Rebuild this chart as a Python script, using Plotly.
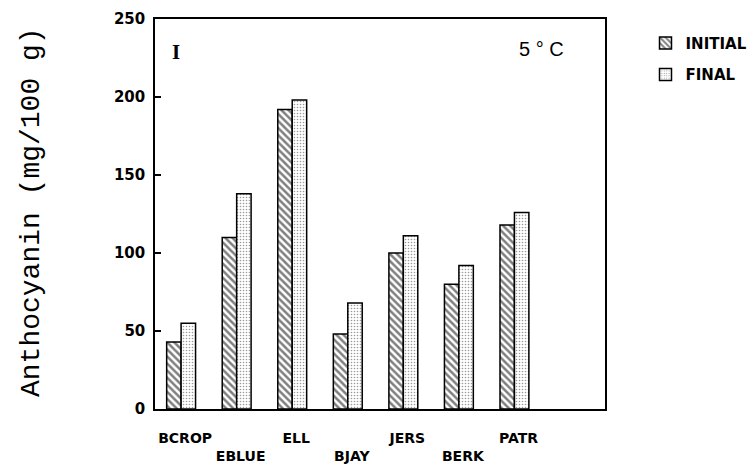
import plotly.graph_objects as go

# Cultivars and anthocyanin content (mg/100 g) stored at 5 °C
cultivars = ["BCROP", "EBLUE", "ELL", "BJAY", "JERS", "BERK", "PATR"]
initial = [43, 110, 192, 48, 100, 80, 118]
final = [55, 138, 198, 68, 111, 92, 126]
y_ticks = [0, 50, 100, 150, 200, 250]

# Alternate labels are pushed down one line so neighbours don't collide
tick_text = [c if i % 2 == 0 else "<br>" + c for i, c in enumerate(cultivars)]

BOLD = "DejaVu Sans, Verdana, sans-serif"

fig = go.Figure()
fig.add_trace(go.Bar(
    x=cultivars, y=initial, name="INITIAL", legendgroup="a",
    marker=dict(color="white", line=dict(color="black", width=1.5),
                pattern=dict(shape="\\", fgcolor="black", bgcolor="white",
                             size=5, solidity=0.5)),
))
fig.add_trace(go.Bar(
    x=cultivars, y=final, name="FINAL", legendgroup="b",
    marker=dict(color="white", line=dict(color="black", width=1.5),
                pattern=dict(shape=".", fgcolor="#333333", bgcolor="white",
                             size=3, solidity=0.22)),
))

fig.update_layout(
    width=750, height=468,
    margin=dict(l=155, r=145, t=19, b=59, autoexpand=False),
    paper_bgcolor="white", plot_bgcolor="white",
    barmode="group", bargap=0.48, bargroupgap=0,
    font=dict(family="Liberation Sans, Arial, sans-serif", color="black"),
    showlegend=True,
    legend=dict(x=1.09, y=0.98, xanchor="left", yanchor="top",
                traceorder="grouped", tracegroupgap=9,
                font=dict(family=BOLD, size=15, weight="bold"),
                bgcolor="rgba(0,0,0,0)"),
    xaxis=dict(
        range=[-0.47, 7.63], tickvals=cultivars, ticktext=tick_text,
        ticks="", showgrid=False, showline=True, linecolor="black",
        linewidth=1.5, mirror=True, ticklabelstandoff=15, ticklabelshift=4,
        tickfont=dict(family=BOLD, size=14, weight="bold"), automargin=False,
    ),
    yaxis=dict(
        range=[0, 250], tickvals=y_ticks, ticks="inside", ticklen=6,
        tickwidth=1.5, tickcolor="black", showgrid=False, zeroline=False,
        showline=True, linecolor="black", linewidth=1.5, mirror=True,
        ticklabelstandoff=5, tickfont=dict(family=BOLD, size=15, weight="bold"),
        automargin=False,
    ),
)

fig.add_annotation(
    text="Anthocyanin (mg/100 g)", textangle=-90, showarrow=False,
    xref="paper", yref="paper", x=-0.2756, y=0.505,
    xanchor="center", yanchor="middle",
    font=dict(family="Liberation Mono, Courier New, monospace", size=28),
)
fig.add_annotation(
    text="I", showarrow=False, xref="paper", yref="paper",
    x=0.0467, y=0.915, xanchor="center", yanchor="middle",
    font=dict(family="Liberation Serif, Times New Roman, serif", size=21,
              weight="bold"),
)
fig.add_annotation(
    text="5 ° C", showarrow=False, xref="paper", yref="paper",
    x=0.858, y=0.923, xanchor="center", yanchor="middle",
    font=dict(size=20),
)

fig.write_html("out.html")
